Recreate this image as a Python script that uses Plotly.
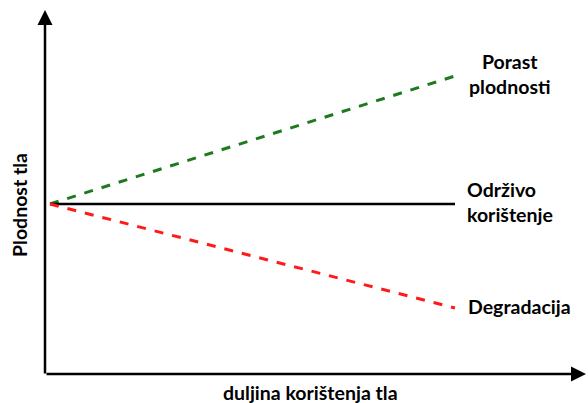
import plotly.graph_objects as go

# Data (arbitrary units)
duration = [0, 10]
porast = [5.0, 8.2]        # rising fertility
odrzivo = [5.0, 5.0]       # sustainable use
degradacija = [5.0, 2.4]   # degradation
series_names = ["Porast<br>plodnosti", "Održivo<br>korištenje", "Degradacija"]
x_title = "duljina korištenja tla"
y_title = "Plodnost tla"

W, H = 588, 403
px_per_x = 40.5
px_per_y = 40.0
x0 = -50 / px_per_x
x1 = x0 + W / px_per_x
ytop = 5 + 204 / px_per_y
ybot = ytop - H / px_per_y

FONT = "Lato"
FS = 19.5

fig = go.Figure()
fig.add_trace(go.Scatter(x=duration, y=porast, mode="lines",
                         line=dict(color="#1e7a1e", width=3, dash="dash")))
fig.add_trace(go.Scatter(x=duration, y=odrzivo, mode="lines",
                         line=dict(color="black", width=2.5)))
fig.add_trace(go.Scatter(x=duration, y=degradacija, mode="lines",
                         line=dict(color="#ff1a1a", width=3, dash="dash")))

# series labels
fig.add_annotation(x=10 + 55 / px_per_x, y=porast[1] + 0.05, text="<b>" + series_names[0] + "</b>",
                   showarrow=False, xanchor="center", yanchor="middle", align="center",
                   font=dict(family=FONT, size=FS, color="black"))
fig.add_annotation(x=10 + 10 / px_per_x, y=odrzivo[1] + 0.05, text="<b>" + series_names[1] + "</b>",
                   showarrow=False, xanchor="left", yanchor="middle", align="left",
                   font=dict(family=FONT, size=FS, color="black"))
fig.add_annotation(x=10 + 11 / px_per_x, y=degradacija[1] + 0.04, text="<b>" + series_names[2] + "</b>",
                   showarrow=False, xanchor="left", yanchor="middle", align="left",
                   font=dict(family=FONT, size=FS, color="black"))

# axes as arrows (paper coordinates)
fig.add_annotation(xref="paper", yref="paper", x=586 / W, y=1 - 374 / H, text="",
                   showarrow=True, ax=-541, ay=0, arrowhead=2, arrowsize=1.2,
                   arrowwidth=2.5, arrowcolor="black")
fig.add_annotation(xref="paper", yref="paper", x=45 / W, y=1 - 10 / H, text="",
                   showarrow=True, ax=0, ay=365, arrowhead=2, arrowsize=1.2,
                   arrowwidth=2.5, arrowcolor="black")

# axis titles
fig.add_annotation(xref="paper", yref="paper", x=310 / W, y=1 - 392 / H, text="<b>" + x_title + "</b>",
                   showarrow=False, xanchor="center", yanchor="middle",
                   font=dict(family=FONT, size=FS, color="black"))
fig.add_annotation(xref="paper", yref="paper", x=19 / W, y=1 - 205 / H, text="<b>" + y_title + "</b>",
                   showarrow=False, xanchor="center", yanchor="middle", textangle=-90,
                   font=dict(family=FONT, size=FS, color="black"))

fig.update_xaxes(range=[x0, x1], visible=False, fixedrange=True)
fig.update_yaxes(range=[ybot, ytop], visible=False, fixedrange=True)
fig.update_layout(width=W, height=H, margin=dict(l=0, r=0, t=0, b=0),
                  showlegend=False, plot_bgcolor="white", paper_bgcolor="white")

fig.write_html("out.html", config={"displayModeBar": False},
               post_script="document.body.style.margin='0';document.body.style.overflow='hidden';")
